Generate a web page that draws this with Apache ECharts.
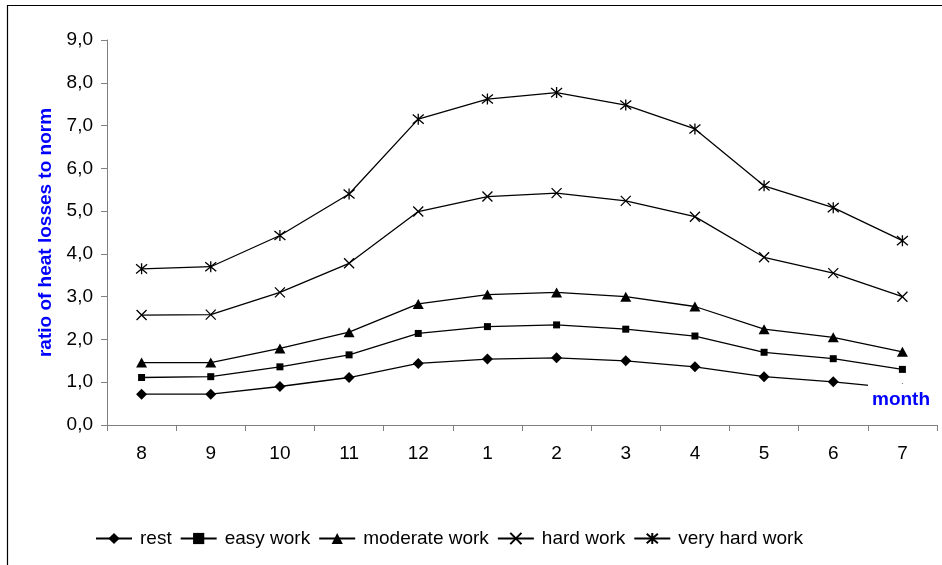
<!DOCTYPE html>
<html>
<head>
<meta charset="utf-8">
<script src="https://cdn.jsdelivr.net/npm/echarts@6/dist/echarts.min.js"></script>
<style>
  html, body { margin: 0; padding: 0; background: #fff; }
  #chart { width: 942px; height: 565px; }
</style>
</head>
<body>
<div id="chart"></div>
<script>
// Months of the year, starting from August
const months = ['8', '9', '10', '11', '12', '1', '2', '3', '4', '5', '6', '7'];

// Ratio of heat losses to norm, per activity level
const rest         = [0.72, 0.72, 0.90, 1.11, 1.44, 1.54, 1.57, 1.50, 1.36, 1.13, 1.01, 0.85];
const easyWork     = [1.11, 1.13, 1.36, 1.64, 2.14, 2.30, 2.34, 2.24, 2.08, 1.70, 1.55, 1.30];
const moderateWork = [1.46, 1.46, 1.79, 2.17, 2.83, 3.05, 3.10, 3.00, 2.77, 2.24, 2.05, 1.71];
const hardWork     = [2.57, 2.58, 3.10, 3.78, 4.99, 5.34, 5.42, 5.24, 4.87, 3.92, 3.55, 3.00];
const veryHardWork = [3.65, 3.70, 4.43, 5.40, 7.15, 7.62, 7.77, 7.48, 6.92, 5.59, 5.08, 4.31];

const seriesNames = ['rest', 'easy work', 'moderate work', 'hard work', 'very hard work'];

const FONT = '"Liberation Sans", Arial, sans-serif';
const CROSS = 'path://M0,0L10,10M10,0L0,10';
const STAR = 'path://M0,0L10,10M10,0L0,10M5,-1L5,11';

function lineSeries(name, data, symbol, size, stroked) {
  return {
    type: 'line',
    name: name,
    data: data,
    symbol: symbol,
    symbolSize: size,
    showAllSymbol: true,
    lineStyle: { color: '#000', width: 1.3 },
    itemStyle: stroked
      ? { color: '#000', borderColor: '#000', borderWidth: 1.3 }
      : { color: '#000', borderWidth: 0 },
    emphasis: { disabled: true }
  };
}

const chart = echarts.init(document.getElementById('chart'), null, { renderer: 'canvas' });

chart.setOption({
  animation: false,
  backgroundColor: '#fff',
  textStyle: { fontFamily: FONT },
  grid: { left: 107, right: 5, top: 40, bottom: 140, containLabel: false },
  legend: {
    left: 90,
    top: 524,
    itemWidth: 36,
    itemHeight: 14,
    itemGap: 8,
    textStyle: { color: '#000', fontSize: 19, fontFamily: FONT, padding: [0, 0, 0, 3] },
    data: seriesNames
  },
  xAxis: {
    type: 'category',
    data: months,
    boundaryGap: true,
    axisLine: { lineStyle: { color: '#808080', width: 1 } },
    axisTick: { show: true, length: 6, lineStyle: { color: '#808080' } },
    axisLabel: { color: '#000', fontSize: 19, fontFamily: FONT, margin: 19 },
    splitLine: { show: false }
  },
  yAxis: {
    type: 'value',
    min: 0,
    max: 9,
    interval: 1,
    name: 'ratio of heat losses to norm',
    nameLocation: 'middle',
    nameRotate: 90,
    nameGap: 51,
    nameTextStyle: { color: '#0000ff', fontWeight: 'bold', fontSize: 19, fontFamily: FONT },
    axisLine: { show: true, lineStyle: { color: '#808080', width: 1 } },
    axisTick: { show: true, length: 6, lineStyle: { color: '#808080' } },
    axisLabel: {
      color: '#000', fontSize: 19, fontFamily: FONT, margin: 14,
      formatter: v => v.toFixed(1).replace('.', ',')
    },
    splitLine: { show: false }
  },
  series: [
    lineSeries(seriesNames[0], rest, 'diamond', 11, false),
    lineSeries(seriesNames[1], easyWork, 'rect', 7, false),
    lineSeries(seriesNames[2], moderateWork, 'triangle', [11, 10], false),
    lineSeries(seriesNames[3], hardWork, CROSS, 10, true),
    lineSeries(seriesNames[4], veryHardWork, STAR, 11, true)
  ],
  graphic: [
    {
      type: 'rect',
      z: 200,
      silent: true,
      shape: { x: 7.5, y: 5.5, width: 1000, height: 1000 },
      style: { fill: 'none', stroke: '#000', lineWidth: 1.2 }
    },
    {
      type: 'text',
      z: 100,
      left: 868,
      top: 384,
      silent: true,
      style: {
        text: 'month',
        fill: '#0000ff',
        font: 'bold 19px ' + FONT,
        backgroundColor: '#fff',
        padding: [6, 4, 6, 4]
      }
    }
  ]
});
</script>
</body>
</html>
